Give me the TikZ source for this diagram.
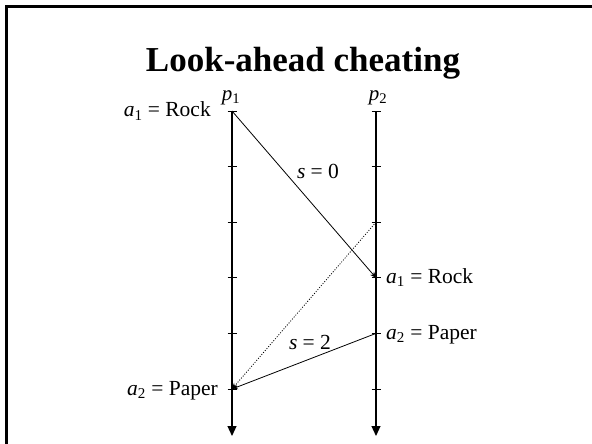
\documentclass[tikz,border=0pt]{standalone}
\usepackage{fontspec}
\setmainfont{Liberation Serif}
\usetikzlibrary{arrows.meta}
\tikzset{
  axis/.style={line width=1.2pt, -{Triangle[length=10pt,width=9pt]}},
  tick/.style={line width=1pt},
  msg/.style={line width=0.8pt, -{Stealth[length=6pt,width=5pt]}},
  dots/.style={dash pattern=on 1pt off 1.6pt},
  lbl/.style={inner sep=0pt, font=\fontsize{21.5}{24}\selectfont},
  plbl/.style={inner sep=0pt, font=\fontsize{21}{24}\selectfont},
}
\newcommand{\myvar}[2]{\textit{#1}\textsubscript{#2}}
\begin{document}
\begin{tikzpicture}[x=1pt,y=-1pt]
\useasboundingbox (0,0) rectangle (592,444);
% frame (only top and left edges visible)
\draw[line width=2.8pt] (592,6.3) -- (6.5,6.3) -- (6.5,444);
% title
\node[anchor=base, inner sep=0pt, font=\fontsize{35}{40}\selectfont\bfseries] (title) at (303,72) {Look-ahead cheating};
% process lines
\coordinate (p1top) at (232,111);
\coordinate (p1end) at (232,436);
\coordinate (p2top) at (376,111);
\coordinate (p2end) at (376,436);
\draw[axis] (p1top) -- (p1end);
\draw[axis] (p2top) -- (p2end);
\foreach \i/\y in {0/111,1/166.6,2/222.2,3/277.8,4/333.4,5/389} {
  \coordinate (l\i) at (232,\y);
  \coordinate (r\i) at (376,\y);
  \draw[tick] ([xshift=-4.5pt]l\i) -- ([xshift=4.5pt]l\i);
  \draw[tick] ([xshift=-4.5pt]r\i) -- ([xshift=4.5pt]r\i);
}
\node[plbl, anchor=base] (p1) at (231,100) {\textit{p}\textsubscript{1}};
\node[plbl, anchor=base] (p2) at (378,100) {\textit{p}\textsubscript{2}};
% labels
\node[lbl, anchor=base east] (la1) at (211,117) {\myvar{a}{1} = Rock};
\node[lbl, anchor=base east] (la2) at (218,395) {\myvar{a}{2} = Paper};
\node[lbl, anchor=base west] (ra1) at (386,283) {\myvar{a}{1} = Rock};
\node[lbl, anchor=base west] (ra2) at (386,339) {\myvar{a}{2} = Paper};
\node[lbl, anchor=base] (s0) at (318,178) {\textit{s} = 0};
\node[lbl, anchor=base] (s2) at (310,349) {\textit{s} = 2};
% messages
\draw[msg] (l0) -- (r3);
\draw[msg, dots] (r2) -- (l5);
\draw[msg] (r4) -- (l5);
\end{tikzpicture}
\end{document}
